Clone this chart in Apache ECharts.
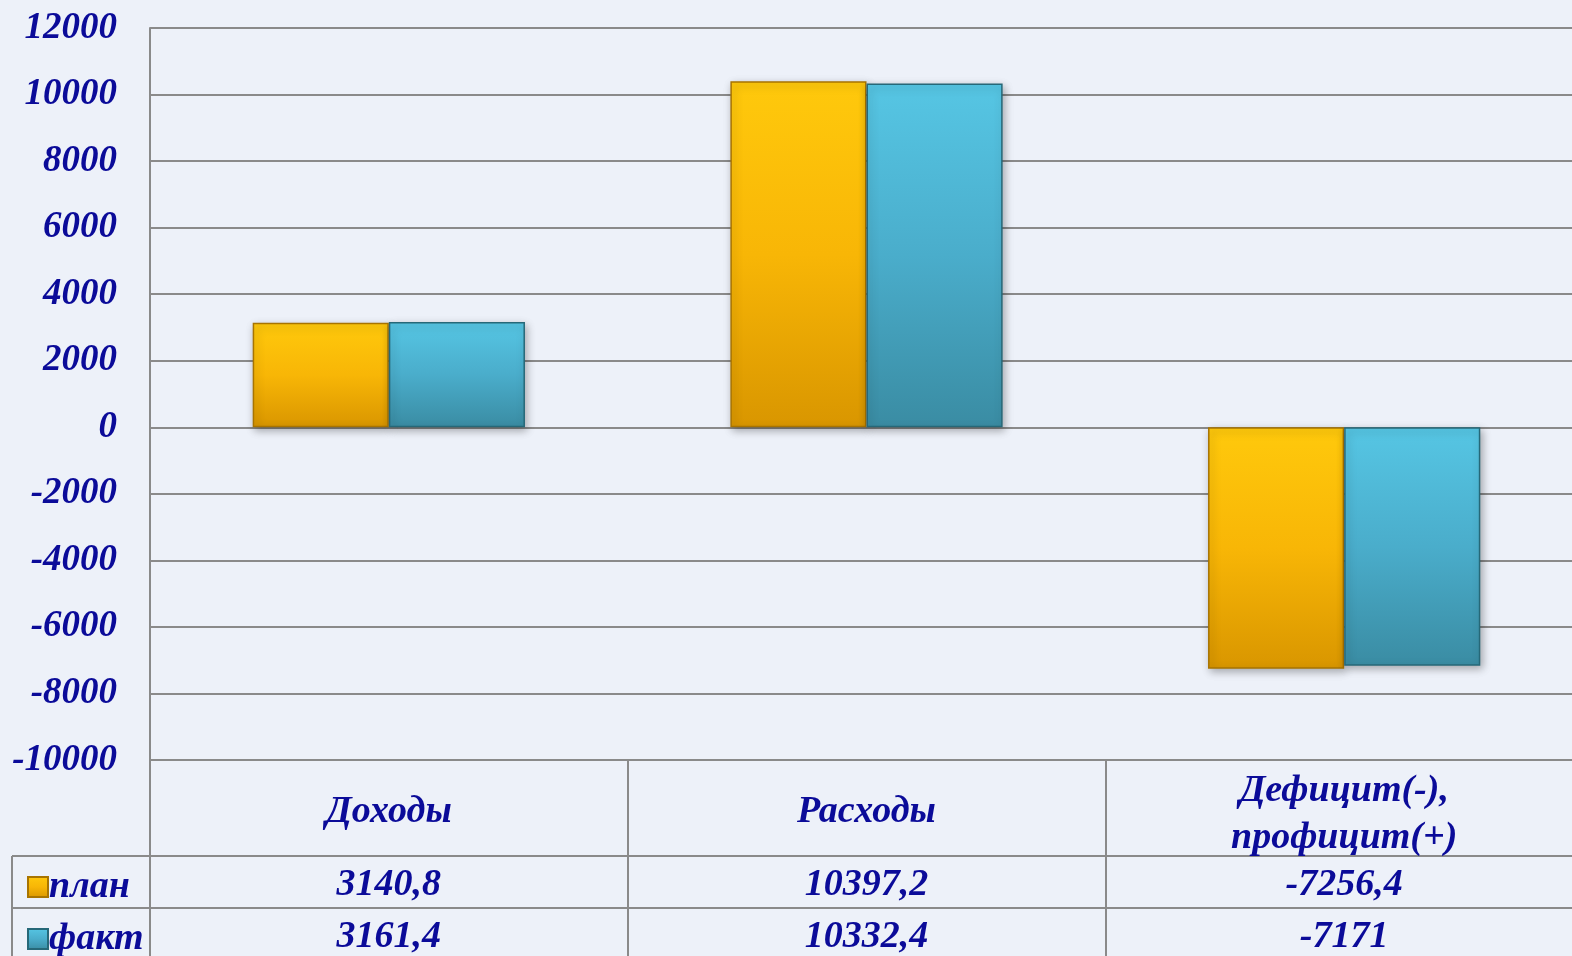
<!DOCTYPE html>
<html><head><meta charset="utf-8">
<script src="https://cdn.jsdelivr.net/npm/echarts@6/dist/echarts.min.js"></script>
<style>html,body{margin:0;padding:0;background:#EDF1F9;overflow:hidden;width:1572px;height:956px;}#c{width:1583px;height:956px;}</style>
</head><body><div id="c"></div>
<script>
const categories = ['Доходы', 'Расходы', 'Дефицит(-),\nпрофицит(+)'];
const seriesNames = ['план', 'факт'];
const planValues = [3140.8, 10397.2, -7256.4];
const factValues = [3161.4, 10332.4, -7171];
const yTicks = {min: -10000, max: 12000, interval: 2000};

const FONT = '"Liberation Serif", "Times New Roman", serif';
const NAVY = '#0b0b99';
const GRID = '#8a8a8a';
const fmt = v => String(v).replace('.', ',');

const gold = new echarts.graphic.LinearGradient(0,0,0,1,[
  {offset:0,color:'#FFC90C'},{offset:0.5,color:'#F8B606'},{offset:1,color:'#D99600'}]);
const cyan = new echarts.graphic.LinearGradient(0,0,0,1,[
  {offset:0,color:'#56C6E4'},{offset:0.5,color:'#4AADCB'},{offset:1,color:'#3A8CA3'}]);

const tStyle = (fs, lh) => ({fontFamily: FONT, fontSize: fs, fontWeight: 'bold', fontStyle: 'italic', color: NAVY, lineHeight: lh});

const legendCommon = {
  orient: 'vertical', left: 22, itemGap: 0,
  itemWidth: 20, itemHeight: 20, icon: 'rect',
  textStyle: Object.assign(tStyle(38, 40), {padding: [0,0,0,-4]})
};

const chart = echarts.init(document.getElementById('c'));
chart.setOption({
  backgroundColor: '#EDF1F9',
  animation: false,
  grid: {left: 150, top: 28, right: 0, bottom: 194, containLabel: false},
  legend: [
    Object.assign({top: 862, data: [seriesNames[0]]}, legendCommon),
    Object.assign({top: 914, data: [seriesNames[1]]}, legendCommon)
  ],
  xAxis: {
    type: 'category', data: categories, position: 'bottom',
    axisLine: {onZero: false, lineStyle: {color: GRID, width: 2}},
    axisTick: {show: true, length: 196, lineStyle: {color: GRID, width: 2}},
    axisLabel: {
      margin: 5, interval: 0,
      formatter: function(val, idx){
        const parts = val.split('\n');
        let head;
        if (parts.length === 1) head = '{c|' + val + '}';
        else head = '{ca|' + parts[0] + '}\n{cb|' + parts[1] + '}';
        return head + '\n{v|' + fmt(planValues[idx]) + '}\n{v|' + fmt(factValues[idx]) + '}';
      },
      rich: {
        c: tStyle(38, 94),
        ca: tStyle(38, 53),
        cb: tStyle(38, 41),
        v: tStyle(38, 52)
      }
    },
    splitLine: {show: false}
  },
  yAxis: {
    type: 'value', min: yTicks.min, max: yTicks.max, interval: yTicks.interval,
    axisLine: {show: true, lineStyle: {color: GRID, width: 2}},
    axisTick: {show: false},
    axisLabel: Object.assign({margin: 33, formatter: v => String(v), padding: [5,0,0,0]}, tStyle(37)),
    splitLine: {lineStyle: {color: GRID, width: 2}}
  },
  series: [
    {name: seriesNames[0], type: 'bar', data: planValues, barGap: '0%', barCategoryGap: '43%',
     itemStyle: {color: gold, borderColor: '#A87400', borderWidth: 1.5, shadowBlur: 8, shadowColor: 'rgba(0,0,0,0.3)', shadowOffsetY: 3, shadowOffsetX: 2}},
    {name: seriesNames[1], type: 'bar', data: factValues, barGap: '0%', barCategoryGap: '43%',
     itemStyle: {color: cyan, borderColor: '#266878', borderWidth: 1.5, shadowBlur: 8, shadowColor: 'rgba(0,0,0,0.3)', shadowOffsetY: 3, shadowOffsetX: 2}}
  ],
  graphic: [
    {type: 'line', shape: {x1: 150, y1: 762, x2: 150, y2: 956}, style: {stroke: GRID, lineWidth: 2}},
    {type: 'line', shape: {x1: 12, y1: 856, x2: 1583, y2: 856}, style: {stroke: GRID, lineWidth: 2}},
    {type: 'line', shape: {x1: 12, y1: 908, x2: 1583, y2: 908}, style: {stroke: GRID, lineWidth: 2}},
    {type: 'line', shape: {x1: 12, y1: 856, x2: 12, y2: 956}, style: {stroke: GRID, lineWidth: 2}}
  ]
});
</script></body></html>
